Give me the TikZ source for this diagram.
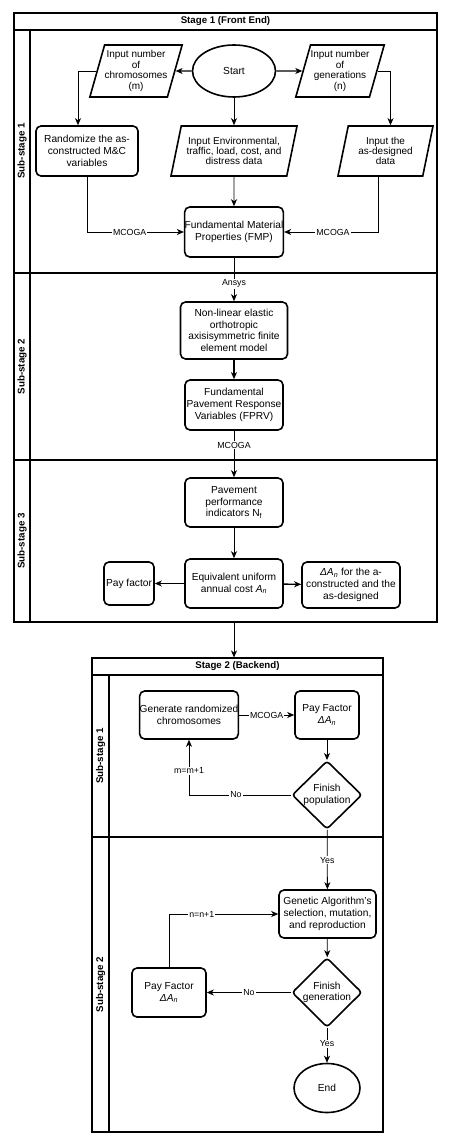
\documentclass[tikz,border=0pt]{standalone}
\usepackage{fontspec}
\setmainfont{Liberation Sans}
\usepackage{tikz}
\usetikzlibrary{arrows.meta,shapes.geometric,positioning,calc}
\newcommand{\An}{\textit{A}\textsubscript{\textit{n}}}
\newcommand{\dAn}{\textit{ΔA}\textsubscript{\textit{n}}}
\tikzset{
  box/.style={rectangle, rounded corners=5pt, draw, line width=1.6pt,
    align=center, inner sep=0pt, font=\fontsize{10.2}{11.7}\selectfont},
  io/.style={trapezium, trapezium left angle=70, trapezium right angle=110,
    trapezium stretches body, draw, line width=1.6pt,
    align=center, inner sep=0pt, font=\fontsize{10}{10.4}\selectfont},
  term/.style={ellipse, draw, line width=1.6pt, inner sep=0pt,
    font=\fontsize{10.2}{11.7}\selectfont},
  decide/.style={diamond, draw, rounded corners=3pt, line width=1.6pt,
    inner sep=0pt, align=center, font=\fontsize{10.2}{11.7}\selectfont},
  lane/.style={line width=1.1pt},
  titlebar/.style={draw, line width=1.1pt, inner sep=0pt,
    font=\bfseries\fontsize{9.7}{11}\selectfont},
  sublbl/.style={rotate=90, inner sep=0pt, font=\bfseries\fontsize{9.8}{11}\selectfont},
  lbl/.style={fill=white, inner sep=1pt, font=\fontsize{8.8}{10}\selectfont},
  arr/.style={-{Stealth[length=7pt,width=6pt,inset=2pt]}, line width=0.8pt},
  bold/.style={line width=1.4pt}
}

\begin{document}
\begin{tikzpicture}[x=1pt,y=-1pt]
  \useasboundingbox (0,0) rectangle (453,1147);
  % stage 1
  \draw[lane] (14,13) rectangle (437,622);
  \draw[lane] (30,30) -- (30,622) (14,273) -- (437,273) (14,460) -- (437,460);
  \node[titlebar, minimum width=423pt, minimum height=17pt] (st1) at (225.5,21.5) {Stage 1 (Front End)};
  \foreach \y/\t in {151/1, 366.5/2, 541/3}
    \node[sublbl] (la\t) at (22,\y) {Sub-stage \t};

  \node[term, minimum width=83pt, minimum height=52pt] (start) at (234,71) {Start};
  \node[io, minimum width=88pt, minimum height=52pt] (inm) at (136,71) {Input number\\of\\chromosomes\\(m)};
  \node[io, minimum width=80pt, minimum height=52pt] (ing) at (340,71) {Input number\\of\\generations\\(n)};
  \node[box, minimum width=102pt, minimum height=50pt] (rand) at (87,151) {Randomize the as-\\constructed M\&C\\variables};
  \node[io, minimum width=126pt, minimum height=50pt] (inenv) at (234,151) {Input Environmental,\\traffic, load, cost, and\\distress data};
  \node[io, minimum width=95pt, minimum height=50pt] (indes) at (385.5,151) {Input the\\as-designed\\data};
  \node[box, minimum width=97pt, minimum height=50pt] (fmp) at (234,232) {Fundamental Material\\Properties (FMP)};
  \node[box, minimum width=107pt, minimum height=57pt] (nonlin) at (234,330.5) {Non-linear elastic\\orthotropic\\axisisymmetric finite\\element model};
  \node[box, minimum width=98pt, minimum height=50pt] (fprv) at (234,405) {Fundamental\\Pavement Response\\Variables (FPRV)};
  \node[box, minimum width=98pt, minimum height=49pt] (pav) at (234,502.5) {Pavement\\performance\\indicators N\textsubscript{f}};
  \node[box, minimum width=98pt, minimum height=49pt] (euac) at (234,583.5) {Equivalent uniform\\annual cost \An};
  \node[box, minimum width=50pt, minimum height=43pt] (payf) at (129,583.5) {Pay factor};
  \node[box, minimum width=98pt, minimum height=46pt] (dan) at (351,585) {\dAn{} for the a-\\constructed and the\\as-designed};

  \draw[arr, bold] (start) -- (inm);
  \draw[arr, bold] (start) -- (ing);
  \draw[arr] (start) -- (inenv);
  \draw[arr] (inm.west) -| ([xshift=-9pt]rand.north);
  \draw[arr] (ing.east) -| ([xshift=5pt]indes.north);
  \draw[arr] (inenv) -- (fmp);
  \draw[arr] (rand.south) |- node[lbl, pos=0.72] {MCOGA} (fmp.west);
  \draw[arr] ([xshift=-7.5pt]indes.south) |- node[lbl, pos=0.74] {MCOGA} (fmp.east);
  \draw[arr] (fmp) -- node[lbl, pos=0.6] {Ansys} (nonlin);
  \draw[arr, bold] (nonlin) -- (fprv);
  \draw[arr] (fprv) -- node[lbl, pos=0.31] {MCOGA} (pav);
  \draw[arr] (pav) -- (euac);
  \draw[arr] (euac) -- (payf);
  \draw[arr, bold] (euac) -- (dan);

  % stage 2
  \draw[lane] (92,658) rectangle (383,1132);
  \draw[lane] (109,675) -- (109,1132) (92,837) -- (383,837);
  \node[titlebar, minimum width=291pt, minimum height=17pt] (st2) at (237.5,666.5) {Stage 2 (Backend)};
  \foreach \y/\t in {756/1, 984.5/2}
    \node[sublbl] (lb\t) at (100.5,\y) {Sub-stage \t};
  \coordinate (s1end) at (234,622);
  \draw[arr] (s1end) -- (s1end |- st2.north);

  \node[box, minimum width=98pt, minimum height=48pt] (gen) at (189,715) {Generate randomized\\chromosomes};
  \node[box, minimum width=64pt, minimum height=48pt] (pf1) at (327,715) {Pay Factor\\\dAn};
  \node[decide, minimum width=70pt, minimum height=64pt] (finpop) at (327,795) {Finish\\population};
  \node[box, minimum width=97pt, minimum height=48pt] (ga) at (327.5,914) {Genetic Algorithm's\\selection, mutation,\\and reproduction};
  \node[decide, minimum width=70pt, minimum height=63pt] (fingen) at (327,992.5) {Finish\\generation};
  \node[box, minimum width=74pt, minimum height=49pt] (pf2) at (169,992.5) {Pay Factor\\\dAn};
  \node[term, minimum width=66pt, minimum height=49pt] (endn) at (327,1088) {End};

  \draw[arr] (gen) -- node[lbl] {MCOGA} (pf1);
  \draw[arr] (pf1) -- (finpop);
  \draw[arr] (finpop.west) -| node[lbl, pos=0.27] {No} node[lbl, pos=0.72] {m=m+1} (gen.south);
  \draw[arr] (finpop) -- node[lbl, pos=0.51] {Yes} (ga);
  \draw[arr] (ga) -- (fingen);
  \draw[arr] (fingen) -- node[lbl] {No} (pf2);
  \draw[arr] (pf2.north) |- node[lbl, pos=0.65] {n=n+1} (ga.west);
  \draw[arr] (fingen) -- node[lbl, pos=0.46] {Yes} (endn);
\end{tikzpicture}
\end{document}
